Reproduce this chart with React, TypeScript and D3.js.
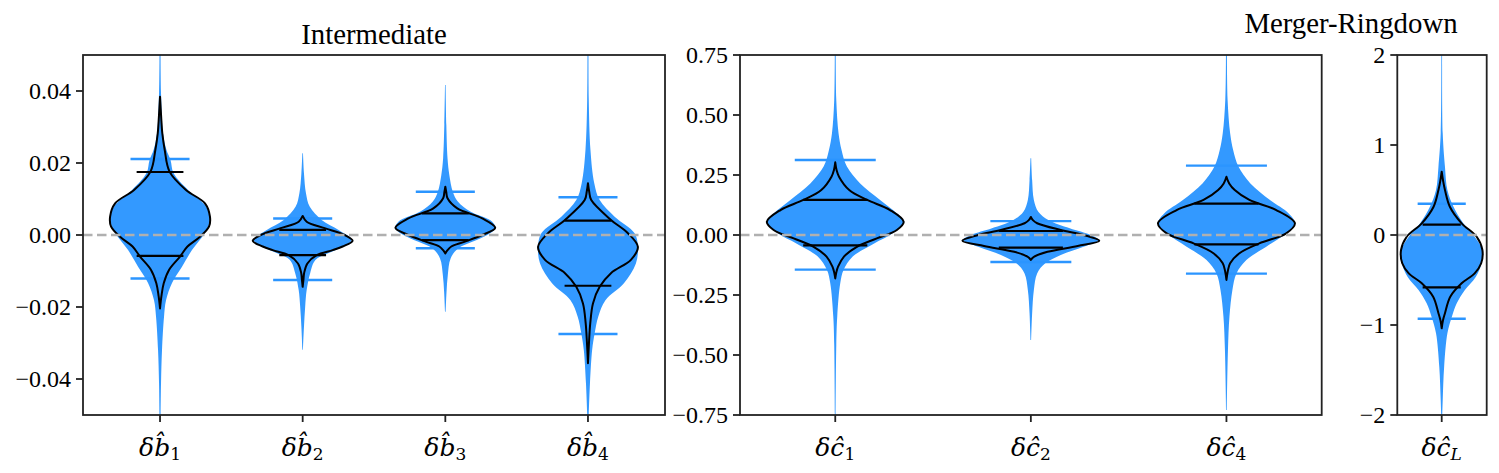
import React from "react";
import * as d3 from "d3";

const W = 1499;
const H = 473;
const TOP = 55;
const BOTTOM = 415;

// ---- Intermediate (b-hat) ----
const interSubs = ["1", "2", "3", "4"];
const interTicks = [-0.04, -0.02, 0, 0.02, 0.04];
const interBlue: [number, number][][] = [
  [[0.052, 0.01], [0.0394, 0.02], [0.0282, 0.06], [0.0236, 0.13], [0.0208, 0.21], [0.0172, 0.27], [0.0125, 0.56], [0.0078, 0.93], [0.0042, 1.0], [0.0006, 0.9], [-0.0042, 0.64], [-0.0088, 0.44], [-0.0133, 0.24], [-0.0181, 0.12], [-0.0227, 0.08], [-0.0319, 0.04], [-0.0411, 0.02], [-0.052, 0.01]],
  [[0.0227, 0.006], [0.0171, 0.026], [0.0116, 0.066], [0.0079, 0.14], [0.0042, 0.38], [0.0014, 0.72], [-0.0014, 0.98], [-0.0042, 0.66], [-0.0069, 0.26], [-0.0106, 0.15], [-0.0153, 0.08], [-0.0199, 0.05], [-0.0255, 0.026], [-0.0319, 0.006]],
  [[0.0417, 0.006], [0.0306, 0.02], [0.0213, 0.044], [0.0167, 0.08], [0.012, 0.15], [0.0093, 0.25], [0.0065, 0.5], [0.0037, 0.94], [0.0019, 1.0], [0.0, 0.84], [-0.0019, 0.54], [-0.0037, 0.26], [-0.0065, 0.106], [-0.0111, 0.05], [-0.0158, 0.024], [-0.0213, 0.006]],
  [[0.052, 0.01], [0.0375, 0.016], [0.0236, 0.05], [0.0144, 0.126], [0.0097, 0.234], [0.0051, 0.534], [0.0005, 0.934], [-0.0033, 1.0], [-0.0079, 0.96], [-0.0134, 0.72], [-0.0181, 0.35], [-0.0227, 0.206], [-0.0273, 0.134], [-0.0319, 0.084], [-0.0412, 0.04], [-0.052, 0.01]],
];
const interBlack: [number, number][][] = [
  [[0.0384, 0], [0.033, 0.022], [0.0282, 0.046], [0.0236, 0.094], [0.0176, 0.19], [0.0125, 0.52], [0.0088, 0.9], [0.0051, 1.0], [0.0023, 0.98], [-0.0005, 0.8], [-0.0032, 0.55], [-0.006, 0.4], [-0.0097, 0.18], [-0.0134, 0.074], [-0.017, 0.028], [-0.0204, 0]],
  [[0.0053, 0], [0.0037, 0.08], [0.0019, 0.44], [0.0, 0.84], [-0.0016, 1.0], [-0.0032, 0.8], [-0.0042, 0.6], [-0.0056, 0.28], [-0.0079, 0.094], [-0.0105, 0.03], [-0.0125, 0.015], [-0.0144, 0]],
  [[0.0134, 0], [0.0118, 0.02], [0.0102, 0.044], [0.0074, 0.24], [0.0046, 0.74], [0.002, 1.0], [0.0, 0.74], [-0.0019, 0.38], [-0.0032, 0.12], [-0.0043, 0.04], [-0.0051, 0]],
  [[0.0144, 0], [0.012, 0.025], [0.0097, 0.066], [0.0042, 0.46], [0.0005, 0.8], [-0.0033, 1.0], [-0.0069, 0.86], [-0.0106, 0.46], [-0.0144, 0.234], [-0.019, 0.1], [-0.0245, 0.046], [-0.03, 0.02], [-0.0356, 0]],
];
const interBlueLines = [[0.0211, -0.0121], [0.0046, -0.0125], [0.012, -0.0037], [0.0105, -0.0275]];
const interBlackLines = [[0.0175, -0.0058], [0.0014, -0.0056], [0.006, -0.0014], [0.004, -0.0141]];

// ---- Merger-Ringdown (c-hat 1, 2, 4) ----
const mrSubs = ["1", "2", "4"];
const mrTicks = [-0.75, -0.5, -0.25, 0, 0.25, 0.5, 0.75];
const mrBlue: [number, number][][] = [
  [[0.78, 0.007], [0.5625, 0.015], [0.424, 0.048], [0.354, 0.092], [0.285, 0.17], [0.215, 0.364], [0.146, 0.655], [0.09, 0.9], [0.055, 1.0], [0.007, 0.837], [-0.035, 0.568], [-0.09, 0.255], [-0.146, 0.121], [-0.201, 0.073], [-0.34, 0.029], [-0.458, 0.015], [-0.78, 0.005]],
  [[0.32, 0.005], [0.229, 0.019], [0.146, 0.044], [0.097, 0.109], [0.0625, 0.255], [0.028, 0.568], [0.0, 0.873], [-0.021, 0.99], [-0.049, 0.77], [-0.083, 0.437], [-0.118, 0.211], [-0.16, 0.092], [-0.229, 0.044], [-0.326, 0.019], [-0.4375, 0.005]],
  [[0.78, 0.007], [0.5625, 0.017], [0.424, 0.054], [0.354, 0.098], [0.285, 0.175], [0.215, 0.35], [0.146, 0.636], [0.09, 0.91], [0.049, 1.0], [0.007, 0.873], [-0.049, 0.582], [-0.104, 0.291], [-0.16, 0.146], [-0.229, 0.087], [-0.34, 0.044], [-0.479, 0.022], [-0.729, 0.005]],
];
const mrBlack: [number, number][][] = [
  [[0.303, 0], [0.27, 0.02], [0.243, 0.055], [0.1875, 0.204], [0.146, 0.466], [0.104, 0.8], [0.055, 1.0], [0.021, 0.9], [-0.014, 0.607], [-0.049, 0.316], [-0.09, 0.127], [-0.132, 0.041], [-0.156, 0.015], [-0.181, 0]],
  [[0.075, 0], [0.062, 0.03], [0.049, 0.092], [0.021, 0.437], [0.0, 0.77], [-0.024, 1.0], [-0.046, 0.684], [-0.07, 0.243], [-0.09, 0.05], [-0.097, 0.02], [-0.104, 0]],
  [[0.243, 0], [0.215, 0.04], [0.1875, 0.121], [0.146, 0.335], [0.104, 0.728], [0.049, 1.0], [0.007, 0.873], [-0.035, 0.48], [-0.076, 0.19], [-0.118, 0.054], [-0.15, 0.02], [-0.1875, 0]],
];
const mrBlueLines = [[0.3125, -0.1444], [0.058, -0.1125], [0.289, -0.161]];
const mrBlackLines = [[0.146, -0.043], [0.0167, -0.053], [0.1306, -0.039]];

// ---- c-hat L ----
const lSubs = ["L"];
const lTicks = [-2, -1, 0, 1, 2];
const lBlue: [number, number][][] = [
  [[2.05, 0.01], [1.13, 0.025], [0.759, 0.08], [0.5, 0.14], [0.314, 0.29], [0.13, 0.53], [-0.019, 0.81], [-0.167, 1.0], [-0.314, 0.98], [-0.463, 0.84], [-0.611, 0.57], [-0.759, 0.37], [-0.908, 0.25], [-1.092, 0.14], [-1.463, 0.06], [-1.833, 0.025], [-2.05, 0.01]],
];
const lBlack: [number, number][][] = [
  [[0.703, 0], [0.6, 0.035], [0.5, 0.08], [0.314, 0.2], [0.13, 0.49], [-0.019, 0.86], [-0.167, 1.0], [-0.314, 0.97], [-0.426, 0.81], [-0.537, 0.49], [-0.686, 0.21], [-0.87, 0.08], [-0.95, 0.03], [-1.037, 0]],
];
const lBlueLines = [[0.348, -0.93]];
const lBlackLines = [[0.115, -0.581]];

const BLUE_FILL = "#3399ff";
const BLUE_LINE = "#2b95ff";
const HALF_WIDTH = 0.35;
const BLUE_BAR = 0.207;
const BLACK_BAR = 0.164;

const panels = [
  {
    id: "inter", left: 83, right: 665, xDomain: [0.46, 4.54], yDomain: [-0.05, 0.05],
    ticks: interTicks, fmt: d3.format(".2f"), base: "b\u0302", subs: interSubs, subItalic: false,
    blue: interBlue, black: interBlack, blueLines: interBlueLines, blackLines: interBlackLines,
  },
  {
    id: "mr", left: 740, right: 1321.7, xDomain: [0.513, 3.487], yDomain: [-0.75, 0.75],
    ticks: mrTicks, fmt: d3.format(".2f"), base: "\u0109", subs: mrSubs, subItalic: false,
    blue: mrBlue, black: mrBlack, blueLines: mrBlueLines, blackLines: mrBlackLines,
  },
  {
    id: "cl", left: 1397.3, right: 1486.7, xDomain: [0.618, 1.387], yDomain: [-2, 2],
    ticks: lTicks, fmt: d3.format("d"), base: "\u0109", subs: lSubs, subItalic: true,
    blue: lBlue, black: lBlack, blueLines: lBlueLines, blackLines: lBlackLines,
  },
];

const Panel = ({ p }: { p: any }) => {
  const x = d3.scaleLinear().domain(p.xDomain).range([p.left, p.right]);
  const y = d3.scaleLinear().domain(p.yDomain).range([BOTTOM, TOP]);
  const unit = x(1) - x(0);

  const violin = (pos: number) =>
    d3
      .area<[number, number]>()
      .y((d) => y(d[0]))
      .x0((d) => x(pos) - d[1] * HALF_WIDTH * unit)
      .x1((d) => x(pos) + d[1] * HALF_WIDTH * unit)
      .curve(d3.curveCatmullRom.alpha(0.5));

  return (
    <g>
      <defs>
        <clipPath id={`clip-${p.id}`}>
          <rect x={p.left} y={TOP} width={p.right - p.left} height={BOTTOM - TOP} />
        </clipPath>
      </defs>
      <g clipPath={`url(#clip-${p.id})`}>
        {p.blue.map((prof: [number, number][], i: number) => (
          <path key={`b${i}`} d={violin(i + 1)(prof) || ""} fill={BLUE_FILL} stroke="none" />
        ))}
        {p.blueLines.map((ls: number[], i: number) =>
          ls.map((v, j) => (
            <line key={`bl${i}-${j}`} x1={x(i + 1 - BLUE_BAR)} x2={x(i + 1 + BLUE_BAR)} y1={y(v)} y2={y(v)}
              stroke={BLUE_LINE} strokeWidth={2.4} />
          ))
        )}
        {p.black.map((prof: [number, number][], i: number) => (
          <path key={`k${i}`} d={violin(i + 1)(prof) || ""} fill="none" stroke="#000" strokeWidth={2} strokeLinejoin="round" />
        ))}
        {p.blackLines.map((ls: number[], i: number) =>
          ls.map((v, j) => (
            <line key={`kl${i}-${j}`} x1={x(i + 1 - BLACK_BAR)} x2={x(i + 1 + BLACK_BAR)} y1={y(v)} y2={y(v)}
              stroke="#000" strokeWidth={2.2} />
          ))
        )}
        <line x1={p.left} x2={p.right} y1={y(0)} y2={y(0)} stroke="#b0b0b0" strokeWidth={2.5} strokeDasharray="9.5,4.5" />
      </g>
      <rect x={p.left} y={TOP} width={p.right - p.left} height={BOTTOM - TOP} fill="none" stroke="#222" strokeWidth={1.8} />
      {p.ticks.map((t: number) => (
        <g key={`yt${t}`}>
          <line x1={p.left - 7} x2={p.left} y1={y(t)} y2={y(t)} stroke="#222" strokeWidth={1.8} />
          <text x={p.left - 12} y={y(t)} dy="0.34em" textAnchor="end" fontFamily="'Liberation Serif', 'Times New Roman', serif" fontSize={24} fill="#000">
            {p.fmt(t)}
          </text>
        </g>
      ))}
      {p.subs.map((s: string, i: number) => (
        <g key={`xt${i}`}>
          <line x1={x(i + 1)} x2={x(i + 1)} y1={BOTTOM} y2={BOTTOM + 7} stroke="#222" strokeWidth={1.8} />
          <text x={x(i + 1)} y={456} textAnchor="middle" fontFamily="'DejaVu Serif', serif" fontSize={25} fill="#000">
            <tspan fontStyle="italic">δ</tspan>
            <tspan fontStyle="italic">{p.base}</tspan>
            <tspan fontSize={17} dy={4} fontStyle={p.subItalic ? "italic" : "normal"}>{s}</tspan>
          </text>
        </g>
      ))}
    </g>
  );
};

export default function App() {
  return (
    <svg width={W} height={H} style={{ position: "absolute", left: 0, top: 0, display: "block", background: "#fff" }}>
      {panels.map((p) => (
        <Panel key={p.id} p={p} />
      ))}
      <text x={374} y={44} textAnchor="middle" fontFamily="'Liberation Serif', 'Times New Roman', serif" fontSize={28.8} fill="#000">
        Intermediate
      </text>
      <text x={1351} y={33} textAnchor="middle" fontFamily="'Liberation Serif', 'Times New Roman', serif" fontSize={28.8} fill="#000">
        Merger-Ringdown
      </text>
    </svg>
  );
}
